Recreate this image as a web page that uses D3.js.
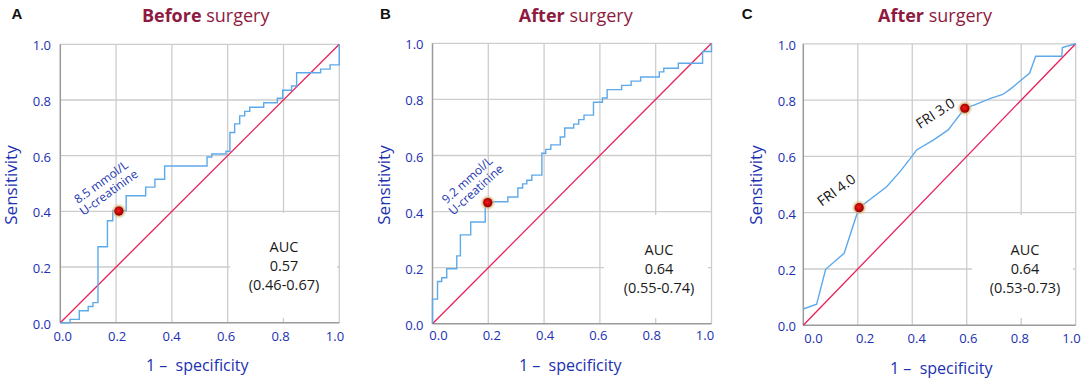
<!DOCTYPE html>
<html><head><meta charset="utf-8">
<script src="https://cdn.jsdelivr.net/npm/d3@7"></script>
<style>
body{margin:0;background:#fff;}
svg{display:block;font-family:"Open Sans",sans-serif;}
</style>
</head><body>
<svg id="chart" width="1084" height="383"></svg>
<script>
// ---------- data ----------
const ticks = [0, 0.2, 0.4, 0.6, 0.8, 1.0];
const panelLetters = ["A", "B", "C"];
const titleBold = ["Before", "After", "After"];
const titleRest = ["surgery", "surgery", "surgery"];
const aucLabel = "AUC";
const aucValues = ["0.57", "0.64", "0.64"];
const aucCI = ["(0.46-0.67)", "(0.55-0.74)", "(0.53-0.73)"];
const xTitle = "1 \u2013  specificity";
const yTitle = "Sensitivity";

// Panel A (step ROC) : 1-specificity / sensitivity at each step corner
const aFpr = [0, 0.035, 0.068, 0.100, 0.117, 0.135, 0.169, 0.188, 0.236, 0.306, 0.339, 0.374, 0.526, 0.543, 0.594, 0.608, 0.625, 0.643, 0.661, 0.679, 0.729, 0.778, 0.797, 0.829, 0.847, 0.933, 0.967, 1.0];
const aTpr = [0, 0.012, 0.043, 0.058, 0.072, 0.273, 0.366, 0.402, 0.456, 0.487, 0.515, 0.563, 0.595, 0.606, 0.616, 0.683, 0.714, 0.743, 0.759, 0.774, 0.790, 0.806, 0.835, 0.850, 0.898, 0.911, 0.926, 1.0];
// Panel B (step ROC)
const bFpr = [0, 0, 0.018, 0.033, 0.051, 0.087, 0.100, 0.137, 0.189, 0.270, 0.306, 0.323, 0.338, 0.356, 0.392, 0.406, 0.424, 0.458, 0.474, 0.506, 0.524, 0.543, 0.577, 0.609, 0.626, 0.678, 0.712, 0.746, 0.813, 0.829, 0.881, 0.968, 1.0];
const bTpr = [0, 0.088, 0.151, 0.164, 0.196, 0.242, 0.317, 0.363, 0.435, 0.452, 0.484, 0.499, 0.512, 0.530, 0.608, 0.622, 0.638, 0.666, 0.698, 0.712, 0.728, 0.744, 0.790, 0.805, 0.835, 0.850, 0.865, 0.880, 0.898, 0.911, 0.929, 0.971, 1.0];
// Panel C (smooth polyline ROC)
const cFpr = [0, 0.049, 0.082, 0.150, 0.204, 0.306, 0.355, 0.398, 0.416, 0.477, 0.532, 0.551, 0.569, 0.592, 0.636, 0.685, 0.732, 0.759, 0.831, 0.853, 0.949, 0.951, 1.0];
const cTpr = [0.058, 0.075, 0.199, 0.256, 0.417, 0.492, 0.546, 0.599, 0.623, 0.658, 0.694, 0.718, 0.741, 0.770, 0.786, 0.805, 0.820, 0.838, 0.896, 0.956, 0.956, 0.987, 1.0];

// cut-off points
const cutAFpr = [0.21],  cutATpr = [0.401];
const cutBFpr = [0.198], cutBTpr = [0.432];
const cutCFpr = [0.205, 0.593], cutCTpr = [0.418, 0.771];
const cutALabel = ["8.5 mmol/L", "U-creatinine"];
const cutBLabel = ["9.2 mmol/L", "U-creatinine"];
const cutCLabel = ["FRI 4.0", "FRI 3.0"];

// ---------- layout (positions / styles only) ----------
const layout = [
  {x0:60.3, x1:339.3, y0:322.7, y1:44.3, lab0:62.7, lab1:335, labY:340.7, yLabX:51,
   letterX:11.5, titleX:205.7, yTitleX:16.5, xTitleX:197.2, xTitleY:370.5,
   aucX:284, aucY:252.3, box:[230,213,337,318], step:true},
  {x0:432.5, x1:711.5, y0:323.8, y1:43.3, lab0:438.5, lab1:705, labY:340.3, yLabX:423.5,
   letterX:380, titleX:575.7, yTitleX:389.5, xTitleX:570.2, xTitleY:371,
   aucX:659, aucY:255, box:[604,215,708,318], step:true},
  {x0:803.3, x1:1075.7, y0:325.3, y1:43.8, lab0:813.5, lab1:1071.5, labY:343, yLabX:796,
   letterX:741.7, titleX:935, yTitleX:762, xTitleX:941.3, xTitleY:374,
   aucX:1025, aucY:255, box:[972,215,1073,318], step:false}
];

const blue = "#1b30b2";
const curveColor = "#5ea9ea";
const diagColor = "#e8205a";
const gridColor = "#cdcdcd";
const axisColor = "#9a9a9a";

const svg = d3.select("#chart");
const defs = svg.append("defs");
const halo = defs.append("radialGradient").attr("id", "halo");
halo.append("stop").attr("offset", "0%").attr("stop-color", "#b88a40").attr("stop-opacity", 1);
halo.append("stop").attr("offset", "55%").attr("stop-color", "#caa060").attr("stop-opacity", 0.85);
halo.append("stop").attr("offset", "100%").attr("stop-color", "#e8d2a0").attr("stop-opacity", 0);
const red = defs.append("radialGradient").attr("id", "reddot").attr("cx", "45%").attr("cy", "45%");
red.append("stop").attr("offset", "0%").attr("stop-color", "#ff1a1a");
red.append("stop").attr("offset", "100%").attr("stop-color", "#9c0000");

const curves = [
  {fpr: aFpr, tpr: aTpr, cx: cutAFpr, cy: cutATpr},
  {fpr: bFpr, tpr: bTpr, cx: cutBFpr, cy: cutBTpr},
  {fpr: cFpr, tpr: cTpr, cx: cutCFpr, cy: cutCTpr}
];

const fmt = d3.format(".1f");

layout.forEach((L, i) => {
  const x = d3.scaleLinear().domain([0, 1]).range([L.x0, L.x1]);
  const y = d3.scaleLinear().domain([0, 1]).range([L.y0, L.y1]);
  const xl = d3.scaleLinear().domain([0, 1]).range([L.lab0, L.lab1]);
  const g = svg.append("g");

  // grid
  g.append("g").selectAll("line.v").data(ticks.slice(1)).join("line")
    .attr("x1", d => x(d)).attr("x2", d => x(d)).attr("y1", y(0)).attr("y2", y(1))
    .attr("stroke", gridColor).attr("stroke-width", 1.3);
  g.append("g").selectAll("line.h").data(ticks.slice(1)).join("line")
    .attr("x1", x(0)).attr("x2", x(1)).attr("y1", d => y(d)).attr("y2", d => y(d))
    .attr("stroke", gridColor).attr("stroke-width", 1.3);

  // white box behind AUC text
  g.append("rect").attr("x", L.box[0]).attr("y", L.box[1])
    .attr("width", L.box[2] - L.box[0]).attr("height", L.box[3] - L.box[1]).attr("fill", "#fff");

  // axes lines
  g.append("line").attr("x1", x(0)).attr("x2", x(0)).attr("y1", y(0)).attr("y2", y(1))
    .attr("stroke", axisColor).attr("stroke-width", 1.5);
  g.append("line").attr("x1", x(0)).attr("x2", x(1)).attr("y1", y(0)).attr("y2", y(0))
    .attr("stroke", axisColor).attr("stroke-width", 1.5);

  // tick labels
  g.append("g").selectAll("text").data(ticks).join("text")
    .attr("x", d => xl(d)).attr("y", L.labY).attr("text-anchor", "middle")
    .attr("font-size", 13).attr("fill", blue).text(d => fmt(d));
  g.append("g").selectAll("text").data(ticks).join("text")
    .attr("x", L.yLabX).attr("y", d => y(d) + 6).attr("text-anchor", "end")
    .attr("font-size", 13).attr("fill", blue).text(d => fmt(d));

  // axis titles
  g.append("text").attr("transform", `translate(${L.yTitleX},185) rotate(-90)`)
    .attr("text-anchor", "middle").attr("font-size", 17).attr("fill", blue).text(yTitle);
  g.append("text").attr("x", L.xTitleX).attr("y", L.xTitleY).attr("text-anchor", "middle")
    .attr("font-size", 16).attr("fill", blue).attr("xml:space", "preserve").text(xTitle);

  // panel letter & title
  g.append("text").attr("x", L.letterX).attr("y", 18.5).attr("font-family", "Liberation Sans, Arial, sans-serif")
    .attr("font-weight", "bold").attr("font-size", 15).attr("fill", "#111").text(panelLetters[i]);
  const t = g.append("text").attr("x", L.titleX).attr("y", 21.5).attr("text-anchor", "middle")
    .attr("font-size", 18).attr("fill", "#8e1a40").attr("xml:space", "preserve");
  t.append("tspan").attr("font-weight", "bold").text(titleBold[i]);
  t.append("tspan").text(" " + titleRest[i]);

  // AUC text
  [aucLabel, aucValues[i], aucCI[i]].forEach((s, k) => {
    g.append("text").attr("x", L.aucX).attr("y", L.aucY + k * 19).attr("text-anchor", "middle")
      .attr("font-size", 14.5).attr("fill", "#1a1a1a").text(s);
  });

  // diagonal
  g.append("line").attr("x1", x(0)).attr("y1", y(0)).attr("x2", x(1)).attr("y2", y(1))
    .attr("stroke", diagColor).attr("stroke-width", 1.3);

  // ROC curve
  const c = curves[i];
  const pts = c.fpr.map((v, k) => [v, c.tpr[k]]);
  const line = d3.line().x(d => x(d[0])).y(d => y(d[1]))
    .curve(L.step ? d3.curveStepAfter : d3.curveLinear);
  g.append("path").attr("d", line(pts)).attr("fill", "none")
    .attr("stroke", curveColor).attr("stroke-width", 1.4);

  // cut-off dots
  c.cx.forEach((v, k) => {
    const px = x(v), py = y(c.cy[k]);
    g.append("circle").attr("cx", px).attr("cy", py).attr("r", 8).attr("fill", "url(#halo)");
    g.append("circle").attr("cx", px).attr("cy", py).attr("r", 4.6).attr("fill", "url(#reddot)");
  });
});

// cut-off labels
function twoLine(cx, cy, ang, lines, color, size) {
  const g = svg.append("g").attr("transform", `translate(${cx},${cy}) rotate(${ang})`);
  lines.forEach((s, k) => {
    g.append("text").attr("x", 0).attr("y", (k - 0.5) * 13 + 4).attr("text-anchor", "middle")
      .attr("font-size", size).attr("fill", color).text(s);
  });
}
twoLine(105, 187.5, -36, cutALabel, "#2236b0", 12);
twoLine(471.7, 185, -42, cutBLabel, "#2236b0", 12);
svg.append("text").attr("transform", "translate(839.3,194) rotate(-36)").attr("text-anchor", "middle")
  .attr("font-size", 14).attr("fill", "#111").text(cutCLabel[0]);
svg.append("text").attr("transform", "translate(938,117.5) rotate(-33)").attr("text-anchor", "middle")
  .attr("font-size", 14).attr("fill", "#111").text(cutCLabel[1]);
</script>
</body></html>
